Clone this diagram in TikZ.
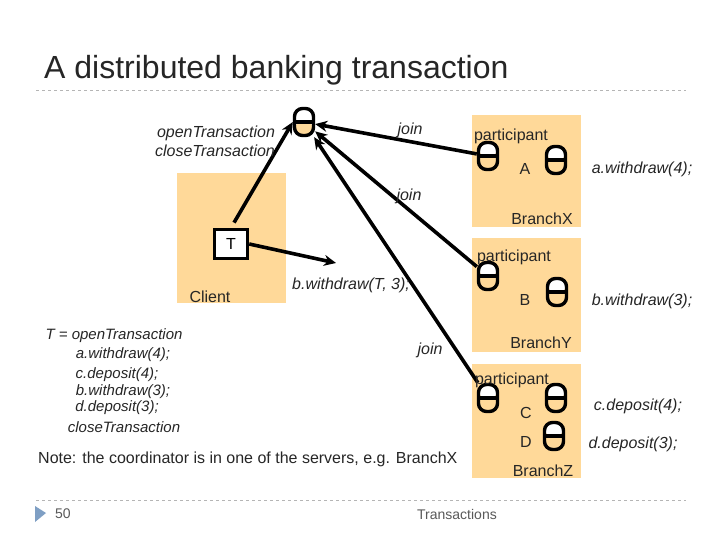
\documentclass[tikz,border=0pt]{standalone}
\usepackage{fontspec}
\usetikzlibrary{arrows.meta}
\setmainfont{Liberation Sans}
\definecolor{branchfill}{HTML}{FFD999}
\definecolor{rulegray}{HTML}{B5B5B5}
\definecolor{footgray}{HTML}{595959}
\definecolor{footblue}{HTML}{7F9FC4}
\begin{document}
\begin{tikzpicture}[x=1pt,y=-1pt,>={Stealth[length=12pt,width=11pt]},
    panel/.style={fill=branchfill},
    conn/.style={line width=3.6pt,black},
    code/.style={inner sep=0pt,yshift=-2pt,font=\fontsize{16}{16}\selectfont\itshape,text=black!85},
    listing/.style={inner sep=0pt,yshift=-2pt,font=\fontsize{15}{15}\selectfont\itshape,text=black!85},
    lbl/.style={inner sep=0pt,yshift=-2pt,font=\fontsize{16}{16}\selectfont,text=black!85},
    pill/.style={draw,line width=3.4pt,rounded corners=8pt,minimum width=19pt,minimum height=27pt,inner sep=0pt,
        path picture={
            \fill[branchfill] (path picture bounding box.south west) rectangle (path picture bounding box.east);
            \fill[white] (path picture bounding box.north west) rectangle (path picture bounding box.east);
            \draw[line width=3.4pt] (path picture bounding box.west)--(path picture bounding box.east);
        }}]
\useasboundingbox (0,0) rectangle (720,540);
\fill[white] (0,0) rectangle (720,540);

\node[anchor=west,inner sep=0pt,font=\fontsize{32}{32}\selectfont,text=black!85] (title) at (44,70) {A distributed banking transaction};
\draw[rulegray,dashed,line width=1pt] (36,91)--(686,91);
\draw[rulegray,dashed,line width=1pt] (36,500)--(686,500);

\fill[panel] (177,173) rectangle (286,303);
\fill[panel] (472,115) rectangle (581,227);
\fill[panel] (472,238) rectangle (581,352);
\fill[panel] (472,364) rectangle (581,478);

\foreach \n/\x/\y in {coord/304/122,partA/488/156,tranA/556/160,partB/488/276,tranB/557/292,partC/488/398,tranC/556/398,tranD/554/436}
{
    \node[pill] (\n) at (\x,\y) {};
}
\node[draw,fill=white,line width=3.4pt,minimum width=33pt,minimum height=29pt,inner sep=0pt,font=\fontsize{16}{16}\selectfont] (tbox) at (231,244) {T};
\coordinate (bcall) at (336,263);

\draw[->,conn,shorten <=6pt] (tbox.north)--(coord.west);
\draw[->,conn] (tbox.east)--(bcall);
\draw[->,conn] (partA)--(coord);
\draw[->,conn] (partB)--(coord);
\draw[->,conn] (partC)--(coord);

\foreach \n/\x/\y/\t in {lopen/216/131/openTransaction,lclose/215/149/closeTransaction,ljoina/410/128/join,ljoinb/409/194/join,ljoinc/430/348/join,lbcall/351/283/{b.withdraw(T, 3);},
    la/642/167/{a.withdraw(4);},lb/642/299/{b.withdraw(3);},lc/638/404/{c.deposit(4);},ld/633/442/{d.deposit(3);}}
{
    \node[code] (\n) at (\x,\y) {\t};
}
\foreach \n/\x/\y/\t in {copen/114/334/{T = openTransaction},cwa/123/353/{a.withdraw(4);},cdc/117/373/{c.deposit(4);},cwb/123/390/{b.withdraw(3);},cdd/117/406/{d.deposit(3);},cclose/124/425/closeTransaction}
{
    \node[listing] (\n) at (\x,\y) {\t};
}
\foreach \n/\x/\y/\t in {client/210/295/Client,parta/511/134/participant,partb/514/255/participant,partc/512/378/participant,
    na/525/167/A,nb/525/298/B,nc/526/411/C,nd/526/440/D,brx/542/217/BranchX,bry/541/341/BranchY,brz/543/469/BranchZ}
{
    \node[lbl] (\n) at (\x,\y) {\t};
}
\node[anchor=west,inner sep=0pt,font=\fontsize{16}{16}\selectfont,text=black!85] (note) at (38,459) {Note: the coordinator is in one of the servers, e.g. BranchX};

\fill[footblue] (35,506)--(46,513)--(35,522)--cycle;
\node[inner sep=0pt,text=footgray,font=\fontsize{14}{14}\selectfont] (pageno) at (63,514) {50};
\node[inner sep=0pt,text=footgray,font=\fontsize{14}{14}\selectfont] (footer) at (457,514) {Transactions};
\end{tikzpicture}
\end{document}
